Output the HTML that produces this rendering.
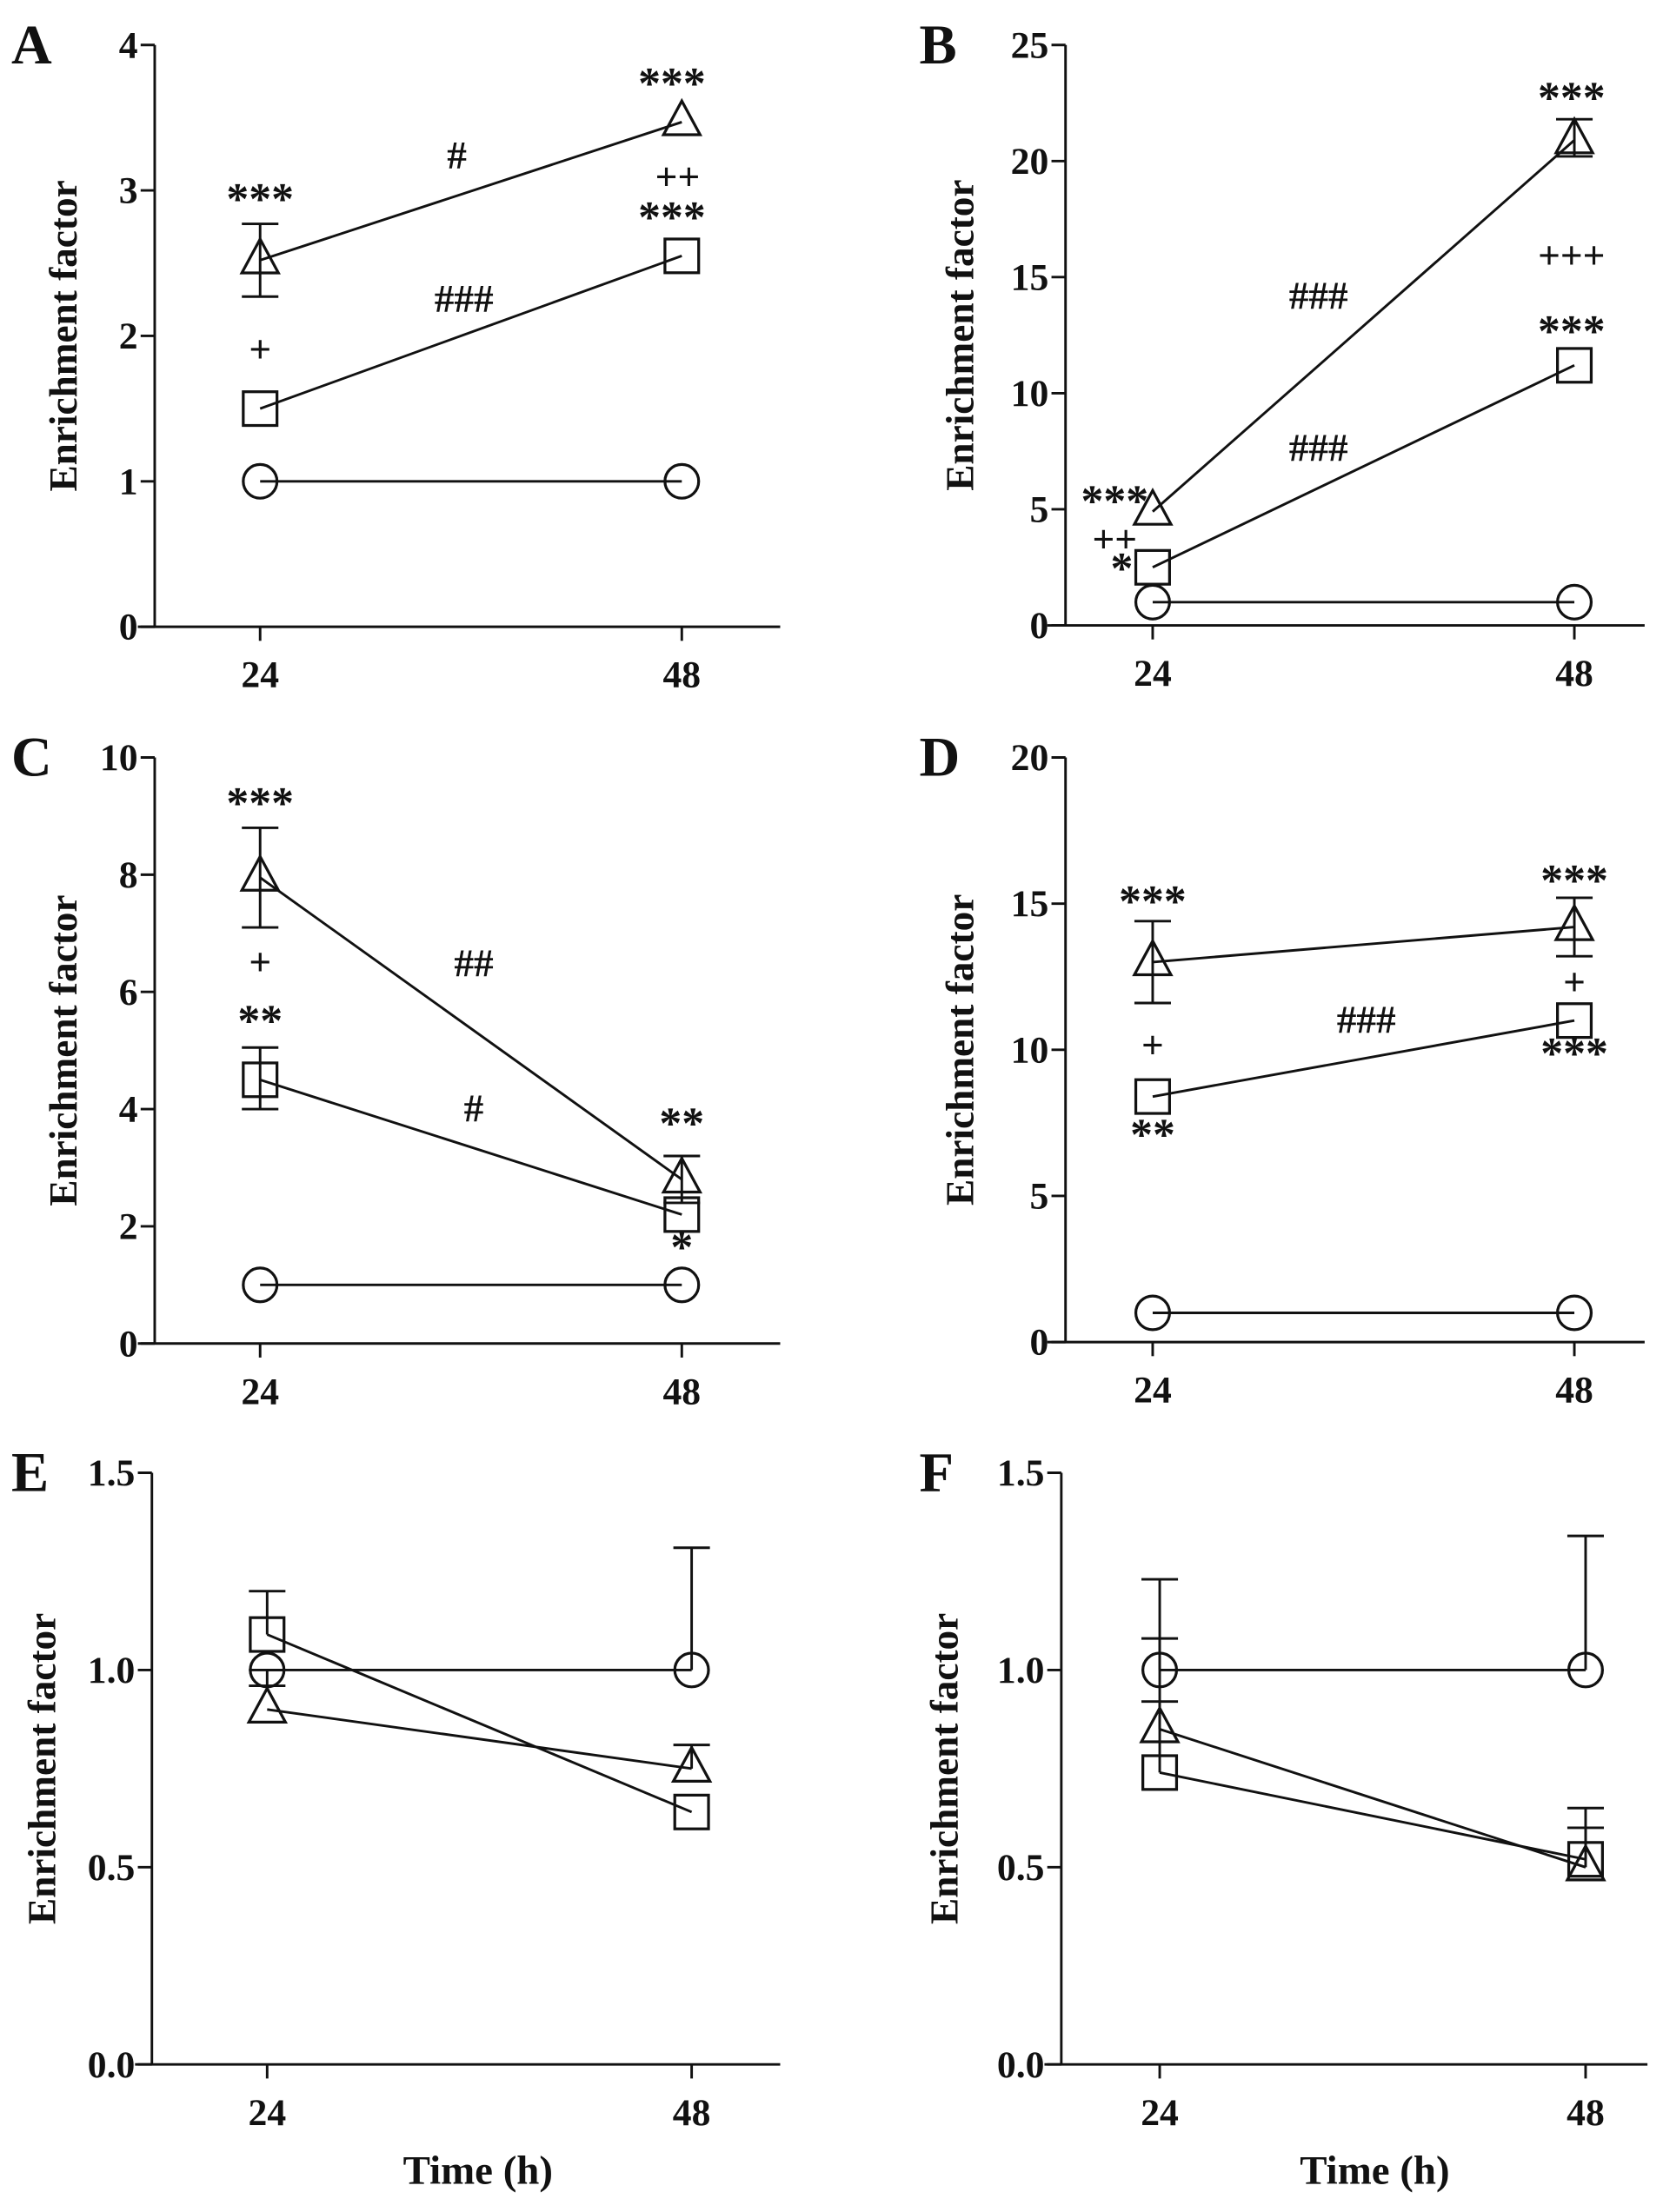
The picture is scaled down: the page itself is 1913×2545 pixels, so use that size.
<!DOCTYPE html>
<html><head><meta charset="utf-8"><style>
html,body{margin:0;padding:0;background:#fff}
svg{display:block}
text{font-family:"Liberation Serif",serif;font-weight:bold;fill:#111}
</style></head><body>
<svg id="fig" width="1913" height="2545" viewBox="0 0 1183 1574" xmlns="http://www.w3.org/2000/svg"></svg>
<script>
// category data
const timeCats = ["24","48"];
// Panel A
const aCircle=[1,1], aSquare=[1.5,2.55], aTriangle=[2.52,3.47];
const aTicks=["0","1","2","3","4"];
// Panel B
const bCircle=[1,1], bSquare=[2.5,11.2], bTriangle=[4.9,20.9];
const bTicks=["0","5","10","15","20","25"];
// Panel C
const cCircle=[1,1], cSquare=[4.5,2.2], cTriangle=[7.95,2.8];
const cTicks=["0","2","4","6","8","10"];
// Panel D
const dCircle=[1,1], dSquare=[8.4,11.0], dTriangle=[13.0,14.2];
const dTicks=["0","5","10","15","20"];
// Panel E
const eCircle=[1.0,1.0], eSquare=[1.09,0.64], eTriangle=[0.9,0.75];
const eTicks=["0.0","0.5","1.0","1.5"];
// Panel F
const fCircle=[1.0,1.0], fSquare=[0.74,0.52], fTriangle=[0.85,0.5];
const fTicks=["0.0","0.5","1.0","1.5"];

const NS="http://www.w3.org/2000/svg";
const svg=document.getElementById('fig');
function mk(tag,attrs,parent){const e=document.createElementNS(NS,tag);for(const k in attrs)e.setAttribute(k,attrs[k]);(parent||svg).appendChild(e);return e;}

const panels=[
 {id:'a',letter:'A',ax:110,top:32,bot:446,x0:185,x1:485,xl:98,xr:555,ymax:4,ticks:aTicks,c:aCircle,s:aSquare,t:aTriangle,lx:45,
  err:[['t',0,2.27,2.77]],
  ann:[['***',185,152],['#',325,120],['***',478,70],['++',482,135],['***',478,165],['###',330,222],['+',185,258]]},
 {id:'b',letter:'B',ax:758,top:32,bot:445,x0:820,x1:1120,xl:745,xr:1170,ymax:25,ticks:bTicks,c:bCircle,s:bSquare,t:bTriangle,lx:683,
  err:[['t',1,20.2,21.8]],
  ann:[['***',1118,80],['###',938,220],['+++',1118,191],['***',1118,246],['###',938,328],['***',793,367],['++',793,393],['*',798,415]]},
 {id:'c',letter:'C',ax:110,top:539,bot:956,x0:185,x1:485,xl:98,xr:555,ymax:10,ticks:cTicks,c:cCircle,s:cSquare,t:cTriangle,lx:45,
  err:[['t',0,7.1,8.8],['s',0,4.0,5.05],['t',1,2.4,3.2]],
  ann:[['***',185,582],['##',337,695],['+',185,694],['**',185,737],['#',337,798],['**',485,810],['*',485,898]]},
 {id:'d',letter:'D',ax:758,top:539,bot:955,x0:820,x1:1120,xl:745,xr:1170,ymax:20,ticks:dTicks,c:dCircle,s:dSquare,t:dTriangle,lx:683,
  err:[['t',0,11.6,14.4],['t',1,13.2,15.2]],
  ann:[['***',820,652],['***',1120,637],['+',1120,708],['###',972,735],['***',1120,760],['+',820,753],['**',820,818]]},
 {id:'e',letter:'E',ax:108,top:1048,bot:1469,x0:190,x1:492,xl:96,xr:555,ymax:1.5,ticks:eTicks,c:eCircle,s:eSquare,t:eTriangle,lx:30,
  err:[['c',1,1.0,1.31],['c',0,0.96,1.0],['s',0,1.09,1.2],['t',1,0.75,0.81]],ann:[],xtitle:340},
 {id:'f',letter:'F',ax:755,top:1048,bot:1469,x0:825,x1:1128,xl:743,xr:1172,ymax:1.5,ticks:fTicks,c:fCircle,s:fSquare,t:fTriangle,lx:672,
  err:[['c',0,1.0,1.23],['t',0,0.85,1.08],['s',0,0.74,0.92],['c',1,1.0,1.34],['s',1,0.52,0.65],['t',1,0.5,0.6]],ann:[],xtitle:978}
];

panels.forEach(p=>{
 const g=mk('g',{});
 
 
 const ys=v=>p.bot-(v/p.ymax)*(p.bot-p.top);
 const xs=i=>i===0?p.x0:p.x1;
 const L=mk('text',{x:p.id==='a'||p.id==='c'||p.id==='e'?8:654,y:p.top+13,'font-size':40},g);L.textContent=p.letter;
 
 const ya=mk('line',{x1:p.ax,y1:p.top,x2:p.ax,y2:p.bot,stroke:'#111','stroke-width':1.8},g);
 
 const xa=mk('line',{x1:p.xl,y1:p.bot,x2:p.xr,y2:p.bot,stroke:'#111','stroke-width':1.8},g);
 
 p.ticks.forEach((tl,i)=>{
  const v=parseFloat(tl);const y=ys(v);
  mk('line',{x1:p.ax-10,y1:y,x2:p.ax,y2:y,stroke:'#111','stroke-width':1.8},g);
  const t=mk('text',{x:p.ax-12,y:y+9,'font-size':27,'text-anchor':'end'},g);t.textContent=tl;
  
 });
 timeCats.forEach((c,i)=>{
  mk('line',{x1:xs(i),y1:p.bot,x2:xs(i),y2:p.bot+10,stroke:'#111','stroke-width':1.8},g);
  const t=mk('text',{x:xs(i),y:p.bot+43,'font-size':27,'text-anchor':'middle'},g);t.textContent=c;
  
 });
 const cy=(p.top+p.bot)/2;
 const yt=mk('text',{x:p.lx,y:cy,'font-size':28,'text-anchor':'middle',transform:`rotate(-90 ${p.lx} ${cy})`,'dominant-baseline':'central'},g);
 yt.textContent='Enrichment factor';
 
 if(p.xtitle){const xt=mk('text',{x:p.xtitle,y:1554,'font-size':29,'text-anchor':'middle'},g);xt.textContent='Time (h)';
  }
 const series={c:p.c,s:p.s,t:p.t};
 p.err.forEach(e=>{
  const x=xs(e[1]);const y1=ys(e[2]),y2=ys(e[3]);
  const eb=mk('g',{stroke:'#111','stroke-width':1.8},g);
  
  mk('line',{x1:x,y1:y1,x2:x,y2:y2},eb);
  mk('line',{x1:x-13,y1:y2,x2:x+13,y2:y2},eb);
  if(e[2]<series[e[0]][e[1]]) mk('line',{x1:x-13,y1:y1,x2:x+13,y2:y1},eb);
 });
 ['c','s','t'].forEach(k=>{
  const d=series[k];
  const ln=mk('line',{x1:xs(0),y1:ys(d[0]),x2:xs(1),y2:ys(d[1]),stroke:'#111','stroke-width':1.8},g);
  
  d.forEach((v,i)=>{
   const x=xs(i),y=ys(v);let m;
   if(k==='c') m=mk('circle',{cx:x,cy:y,r:12,fill:'none',stroke:'#111','stroke-width':2},g);
   else if(k==='s') m=mk('rect',{x:x-12,y:y-12,width:24,height:24,fill:'none',stroke:'#111','stroke-width':2},g);
   else m=mk('polygon',{points:`${x},${y-15} ${x-13},${y+9} ${x+13},${y+9}`,fill:'none',stroke:'#111','stroke-width':2},g);
   
  });
 });
 p.ann.forEach(a=>{
  const t=mk('text',{x:a[1],y:a[2],'font-size':a[0].includes('*')?32:28,'text-anchor':'middle'},g);
  t.textContent=a[0];
  
 });
});
</script>
</body></html>
